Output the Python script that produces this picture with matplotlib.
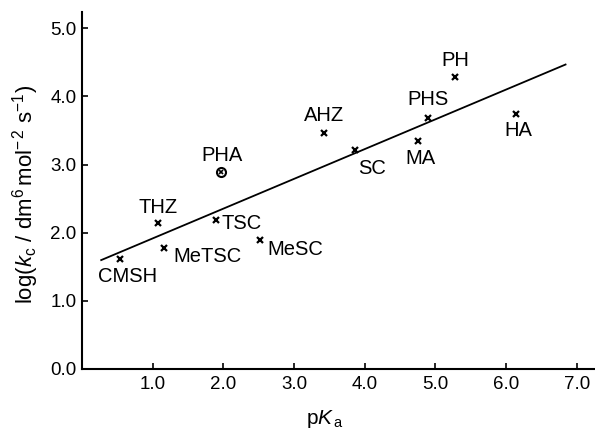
import matplotlib
matplotlib.use("Agg")
import matplotlib.pyplot as plt
import numpy as np

plt.rcParams["font.family"] = ["Liberation Sans", "DejaVu Sans"]
plt.rcParams["mathtext.fontset"] = "custom"
plt.rcParams["mathtext.rm"] = "Liberation Sans"
plt.rcParams["mathtext.it"] = "Liberation Sans:italic"

# compounds: pKa vs log(kc)
names = ["CMSH", "THZ", "MeTSC", "TSC", "MeSC", "AHZ", "SC", "MA", "PHS", "PH", "HA"]
pka = [0.54, 1.07, 1.16, 1.89, 2.51, 3.42, 3.86, 4.75, 4.89, 5.28, 6.14]
logkc = [1.62, 2.14, 1.78, 2.18, 1.89, 3.47, 3.21, 3.34, 3.69, 4.29, 3.75]
# label offsets (points) relative to each marker
offsets = [(5.5, -13), (0, 11), (31, -6), (19, -2), (26, -7), (0, 12),
           (12, -13), (2, -12), (0.5, 13), (0, 12), (1.5, -12.5)]

# PHA is plotted separately (circled point, excluded from the fit)
pha_pka, pha_logkc = 1.96, 2.89

# fitted line
fit_slope, fit_icept = 0.437, 1.48
fit_range = [0.27, 6.84]

LABEL_FS = 14.5

fig = plt.figure(figsize=(5.95, 4.29), dpi=100)
ax = fig.add_axes([0.138, 0.14, 0.86, 0.832])

ax.plot(pka, logkc, "x", color="black", ms=4.5, mew=1.6)
for n, x, y, off in zip(names, pka, logkc, offsets):
    ax.annotate(n, (x, y), xytext=off, textcoords="offset points",
                ha="center", va="center", fontsize=LABEL_FS)

ax.plot([pha_pka], [pha_logkc], "o", mfc="none", mec="black", ms=6.5, mew=1.5)
ax.plot([pha_pka], [pha_logkc], "x", color="black", ms=3.5, mew=1.2)
ax.annotate("PHA", (pha_pka, pha_logkc), xytext=(1, 12), textcoords="offset points",
            ha="center", va="center", fontsize=LABEL_FS)

xf = np.array(fit_range)
ax.plot(xf, fit_slope * xf + fit_icept, color="black", lw=1.3)

ax.set_xlim(0, 7.24)
ax.set_ylim(0, 5.24)
ax.set_xticks(np.arange(1, 8))
ax.set_xticklabels([f"{v:.1f}" for v in range(1, 8)])
ax.set_yticks(np.arange(0, 6))
ax.set_yticklabels([f"{v:.1f}" for v in range(0, 6)])
ax.tick_params(direction="in", length=4, width=1.2, labelsize=13.5)
ax.tick_params(axis="x", pad=5)
ax.tick_params(axis="y", pad=4)
for s in ("top", "right"):
    ax.spines[s].set_visible(False)
for s in ("left", "bottom"):
    ax.spines[s].set_linewidth(1.5)

ax.set_xlabel(r"p$K_{\,\mathrm{a}}$", fontsize=15)
ax.xaxis.set_label_coords(0.475, -0.11)
ax.set_ylabel(r"$\mathrm{log(}k_{\mathrm{c}}\ /\ \mathrm{dm}^{6}\,\mathrm{mol}^{-\,2}\ \mathrm{s}^{-1}\mathrm{)}$",
              fontsize=16)
ax.yaxis.set_label_coords(-0.08, 0.49)

fig.savefig("out.png", dpi=100)
